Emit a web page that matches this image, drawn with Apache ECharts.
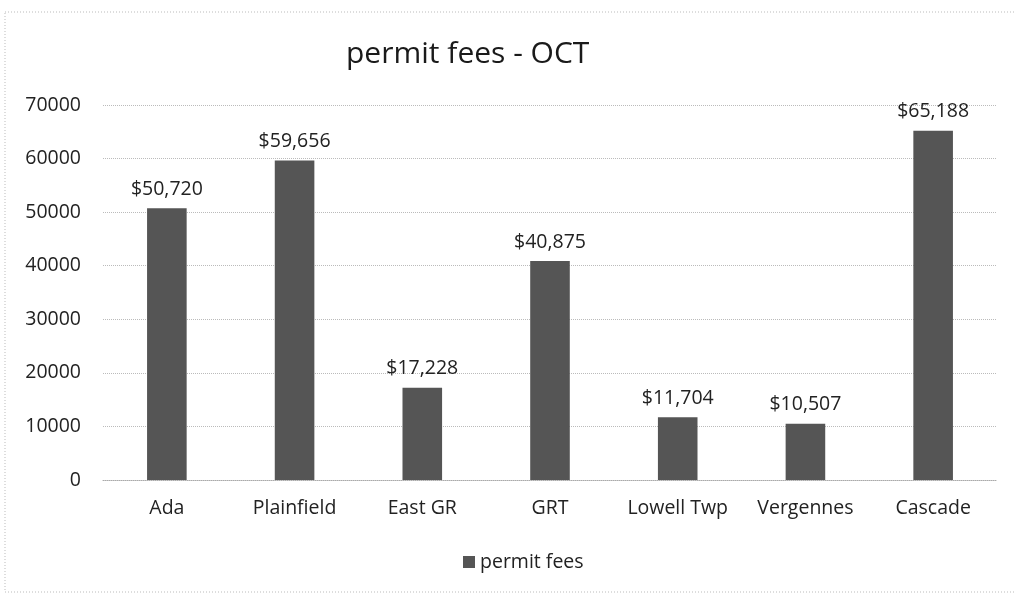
<!DOCTYPE html>
<html>
<head>
    <meta charset="utf-8">
    <script src="https://cdn.jsdelivr.net/npm/echarts@6/dist/echarts.min.js"></script>
    <style>
        html, body { width: 100%; height: 100%; margin: 0; background: #fff; }
    </style>
</head>
<body>
    <div id="main" style="width: 1016px;height:598px;"></div>
    <script>
        var categories = ['Ada', 'Plainfield', 'East GR', 'GRT', 'Lowell Twp', 'Vergennes', 'Cascade'];
        var permitFees = [50720, 59656, 17228, 40875, 11704, 10507, 65188];
        var yTicks = { min: 0, max: 70000, interval: 10000 };

        var font = '"Open Sans", "Noto Sans", sans-serif';
        var chart = echarts.init(document.getElementById('main'));

        var option = {
            backgroundColor: '#fff',
            animation: false,
            textStyle: { fontFamily: font },
            title: {
                text: 'permit fees - OCT',
                left: 341,
                top: 34,
                textStyle: { fontFamily: font, fontSize: 30, fontWeight: 'normal', color: '#1a1a1a' }
            },
            graphic: [{
                type: 'rect',
                shape: { x: 5, y: 12, width: 1020, height: 580 },
                style: { fill: 'none', stroke: '#bbb', lineWidth: 1, lineDash: [1, 2] }
            }],
            legend: {
                data: ['permit fees'],
                top: 547,
                left: 458,
                itemWidth: 12,
                itemHeight: 12,
                itemGap: 6,
                icon: 'rect',
                textStyle: { fontFamily: font, fontSize: 19.5, color: '#222' }
            },
            grid: { left: 103, right: 19, top: 105, bottom: 118 },
            xAxis: {
                type: 'category',
                data: categories,
                axisLine: { lineStyle: { color: '#aaa', type: 'dotted' } },
                axisTick: { show: false },
                axisLabel: {
                    interval: 0,
                    hideOverlap: false,
                    fontFamily: font, fontSize: 19.5, color: '#222', margin: 18
                }
            },
            yAxis: {
                type: 'value',
                min: yTicks.min,
                max: yTicks.max,
                interval: yTicks.interval,
                axisLine: { show: false },
                axisTick: { show: false },
                axisLabel: {
                    fontFamily: font, fontSize: 19.5, color: '#222', margin: 22,
                    formatter: function (v) { return String(v); }
                },
                splitLine: { lineStyle: { color: '#bbb', type: 'dotted' } }
            },
            series: [{
                name: 'permit fees',
                type: 'bar',
                data: permitFees,
                barWidth: '31%',
                itemStyle: { color: '#555555' },
                label: {
                    show: true,
                    position: 'top',
                    distance: 9,
                    fontFamily: font,
                    fontSize: 19.5,
                    color: '#222',
                    formatter: function (p) {
                        return '$' + p.value.toLocaleString('en-US');
                    }
                }
            }]
        };
        chart.setOption(option);
    </script>
</body>
</html>
